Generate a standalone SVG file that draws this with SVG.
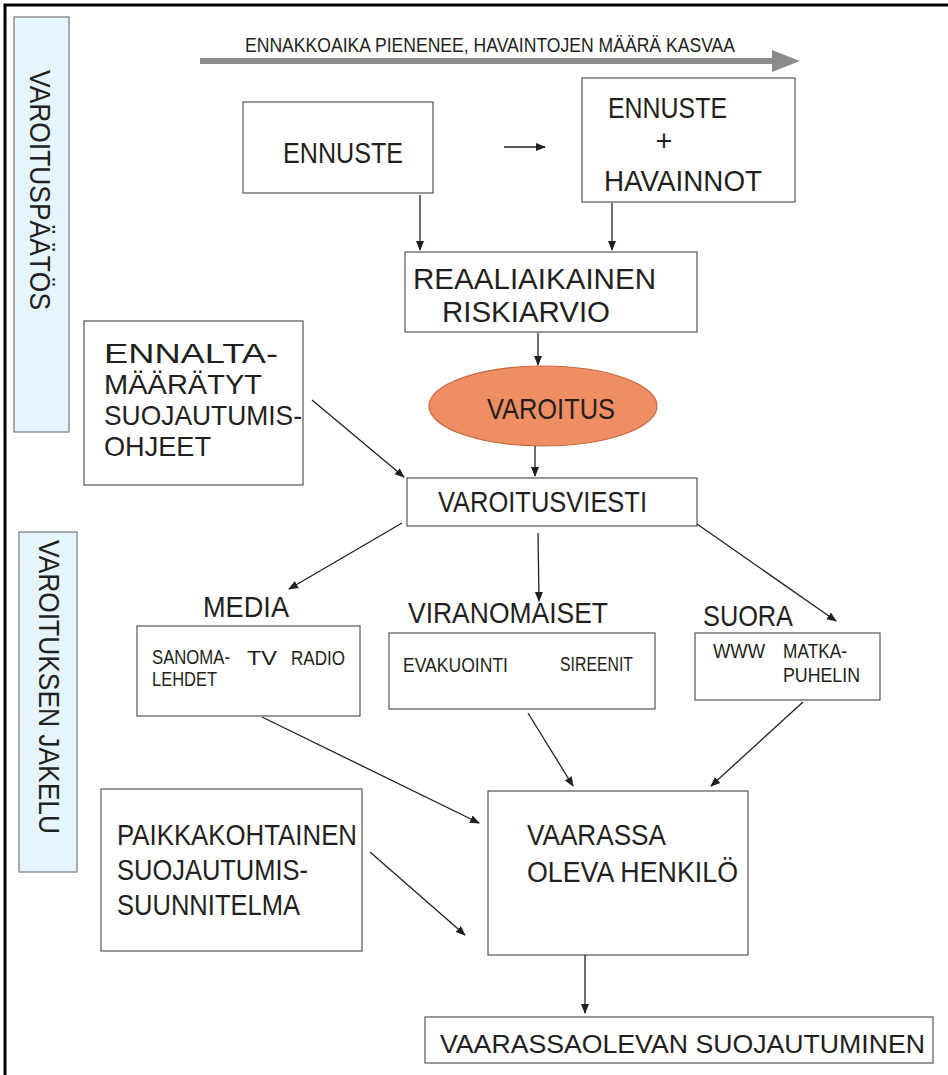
<svg xmlns="http://www.w3.org/2000/svg" width="948" height="1075" viewBox="0 0 948 1075">
  <style>
    text { font-family: "Liberation Sans", Arial, sans-serif; fill: #231f20; }
    .box { fill: #ffffff; stroke: #555555; stroke-width: 1.2; }
    .band { fill: #e6f4fc; stroke: #777777; stroke-width: 1.2; }
    .big { font-size: 29px; }
    .list { font-size: 27.5px; }
    .small { font-size: 19.5px; }
    .tiny { font-size: 20px; }
    .conn line { stroke: #231f20; stroke-width: 1.3; marker-end: url(#head); }
  </style>
  <defs>
    <marker id="head" viewBox="0 0 10 10" refX="9" refY="5" markerWidth="10" markerHeight="10" markerUnits="userSpaceOnUse" orient="auto">
      <path d="M0,1 L10,5 L0,9 Z" fill="#231f20"/>
    </marker>
  </defs>

  <rect width="948" height="1075" fill="#ffffff"/>
  <!-- frame: top and left edges -->
  <path d="M5,1075 V5 H948" fill="none" stroke="#000000" stroke-width="3"/>

  <!-- timeline arrow -->
  <g id="timeline">
    <text x="245" y="52" font-size="20" textLength="490" lengthAdjust="spacingAndGlyphs">ENNAKKOAIKA PIENENEE, HAVAINTOJEN MÄÄRÄ KASVAA</text>
    <line x1="200" y1="61" x2="774" y2="61" stroke="#8c8c8c" stroke-width="6"/>
    <path d="M772,50 L800,61 L772,72 Z" fill="#8c8c8c"/>
  </g>

  <!-- side bands -->
  <g id="band-paatos">
    <rect class="band" x="14" y="17" width="55" height="415"/>
    <text transform="translate(30,70) rotate(90)" font-size="30" textLength="240" lengthAdjust="spacingAndGlyphs">VAROITUSPÄÄTÖS</text>
  </g>
  <g id="band-jakelu">
    <rect class="band" x="19" y="532" width="58" height="340"/>
    <text transform="translate(39,540) rotate(90)" font-size="30" textLength="294" lengthAdjust="spacingAndGlyphs">VAROITUKSEN JAKELU</text>
  </g>

  <!-- nodes -->
  <g id="ennuste">
    <rect class="box" x="243" y="102" width="190" height="91"/>
    <text class="big" x="283" y="163" textLength="120" lengthAdjust="spacingAndGlyphs">ENNUSTE</text>
  </g>
  <g id="ennuste-havainnot">
    <rect class="box" x="582" y="78" width="213" height="124"/>
    <text class="big" x="608" y="118" textLength="119" lengthAdjust="spacingAndGlyphs">ENNUSTE</text>
    <text class="big" x="664" y="151" text-anchor="middle">+</text>
    <text class="big" x="604" y="191" textLength="158" lengthAdjust="spacingAndGlyphs">HAVAINNOT</text>
  </g>
  <g id="riskiarvio">
    <rect class="box" x="405" y="252" width="292" height="80"/>
    <text class="big" x="413" y="289" textLength="243" lengthAdjust="spacingAndGlyphs">REAALIAIKAINEN</text>
    <text class="big" x="442" y="322" textLength="168" lengthAdjust="spacingAndGlyphs">RISKIARVIO</text>
  </g>
  <g id="varoitus">
    <ellipse cx="543" cy="406" rx="114" ry="40" fill="#ef8e63" stroke="#c8693f" stroke-width="1.2"/>
    <text class="big" x="487" y="419" textLength="128" lengthAdjust="spacingAndGlyphs">VAROITUS</text>
  </g>
  <g id="ohjeet">
    <rect class="box" x="84" y="321" width="219" height="164"/>
    <text class="list" x="104" y="363" textLength="174" lengthAdjust="spacingAndGlyphs">ENNALTA-</text>
    <text class="list" x="104" y="394" textLength="158" lengthAdjust="spacingAndGlyphs">MÄÄRÄTYT</text>
    <text class="list" x="104" y="425" textLength="198" lengthAdjust="spacingAndGlyphs">SUOJAUTUMIS-</text>
    <text class="list" x="104" y="456" textLength="107" lengthAdjust="spacingAndGlyphs">OHJEET</text>
  </g>
  <g id="varoitusviesti">
    <rect class="box" x="407" y="478" width="290" height="48"/>
    <text class="big" x="438" y="512" textLength="209" lengthAdjust="spacingAndGlyphs">VAROITUSVIESTI</text>
  </g>
  <g id="media">
    <text class="big" x="203" y="617" textLength="86" lengthAdjust="spacingAndGlyphs">MEDIA</text>
    <rect class="box" x="137" y="626" width="223" height="90"/>
    <text class="small" x="152" y="664" textLength="78" lengthAdjust="spacingAndGlyphs">SANOMA-</text>
    <text class="small" x="152" y="686" textLength="65" lengthAdjust="spacingAndGlyphs">LEHDET</text>
    <text class="small" x="247" y="665" textLength="30" lengthAdjust="spacingAndGlyphs">TV</text>
    <text class="small" x="291" y="665" textLength="54" lengthAdjust="spacingAndGlyphs">RADIO</text>
  </g>
  <g id="viranomaiset">
    <text class="big" x="408" y="623" textLength="200" lengthAdjust="spacingAndGlyphs">VIRANOMAISET</text>
    <rect class="box" x="389" y="633" width="266" height="76"/>
    <text class="tiny" x="403" y="672" textLength="105" lengthAdjust="spacingAndGlyphs">EVAKUOINTI</text>
    <text class="tiny" x="560" y="671" textLength="73" lengthAdjust="spacingAndGlyphs">SIREENIT</text>
  </g>
  <g id="suora">
    <text class="big" x="703" y="626" textLength="90" lengthAdjust="spacingAndGlyphs">SUORA</text>
    <rect class="box" x="695" y="633" width="185" height="67"/>
    <text class="small" x="713" y="658" textLength="52" lengthAdjust="spacingAndGlyphs">WWW</text>
    <text class="small" x="783" y="658" textLength="64" lengthAdjust="spacingAndGlyphs">MATKA-</text>
    <text class="small" x="783" y="682" textLength="77" lengthAdjust="spacingAndGlyphs">PUHELIN</text>
  </g>
  <g id="suunnitelma">
    <rect class="box" x="101" y="789" width="261" height="162"/>
    <text class="big" x="117" y="845" textLength="240" lengthAdjust="spacingAndGlyphs">PAIKKAKOHTAINEN</text>
    <text class="big" x="117" y="880" textLength="191" lengthAdjust="spacingAndGlyphs">SUOJAUTUMIS-</text>
    <text class="big" x="117" y="915" textLength="183" lengthAdjust="spacingAndGlyphs">SUUNNITELMA</text>
  </g>
  <g id="henkilo">
    <rect class="box" x="488" y="791" width="260" height="164"/>
    <text class="big" x="527" y="845" textLength="139" lengthAdjust="spacingAndGlyphs">VAARASSA</text>
    <text class="big" x="527" y="882" textLength="211" lengthAdjust="spacingAndGlyphs">OLEVA HENKILÖ</text>
  </g>
  <g id="suojautuminen">
    <rect class="box" x="425" y="1017" width="508" height="46"/>
    <text x="440" y="1053" font-size="26.5" textLength="485" lengthAdjust="spacingAndGlyphs">VAARASSAOLEVAN SUOJAUTUMINEN</text>
  </g>

  <!-- connectors -->
  <g id="connectors" class="conn">
    <line x1="504" y1="147" x2="545" y2="147"/>
    <line x1="420" y1="195" x2="420" y2="250"/>
    <line x1="612" y1="203" x2="612" y2="250"/>
    <line x1="538" y1="333" x2="538" y2="365"/>
    <line x1="535" y1="446" x2="535" y2="476"/>
    <line x1="312" y1="400" x2="404" y2="477"/>
    <line x1="402" y1="523" x2="289" y2="589"/>
    <line x1="538" y1="533" x2="539" y2="601"/>
    <line x1="697" y1="524" x2="836" y2="621"/>
    <line x1="262" y1="717" x2="479" y2="823"/>
    <line x1="528" y1="713" x2="573" y2="786"/>
    <line x1="803" y1="702" x2="711" y2="786"/>
    <line x1="370" y1="852" x2="465" y2="935"/>
    <line x1="585" y1="955" x2="585" y2="1013"/>
  </g>
</svg>
